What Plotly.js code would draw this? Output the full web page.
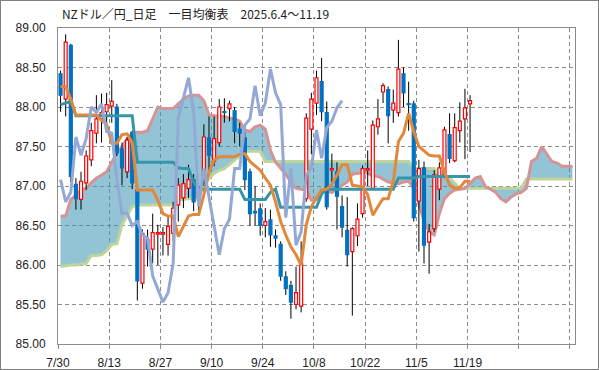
<!DOCTYPE html>
<html><head><meta charset="utf-8">
<script src="https://cdn.plot.ly/plotly-3.0.1.min.js"></script>
<style>
html,body{margin:0;padding:0;background:#fff;}
#wrap{width:599px;height:370px;box-sizing:border-box;border:1px solid #808080;overflow:hidden;}
#chart{width:597px;height:368px;}
</style></head><body><div id="wrap"><div id="chart"></div></div>
<script>
const tickLabels = ['7/30','8/13','8/27','9/10','9/24','10/8','10/22','11/5','11/19','',''];

const open = [88.42,88.10,88.78,87.02,86.83,87.04,87.33,87.67,87.85,87.94,
88.01,88.00,87.47,87.18,87.68,86.95,85.77,86.32,86.20,86.39,
86.39,86.26,86.40,86.76,86.85,86.97,87.08,86.82,87.12,87.61,
87.31,87.55,87.94,87.98,87.95,87.72,87.61,87.18,86.68,86.71,
86.50,86.57,86.37,86.26,85.85,85.74,85.50,85.48,86.84,87.72,
88.05,88.32,87.93,87.20,87.18,86.74,86.44,86.17,86.37,86.65,
87.20,86.97,87.75,88.19,88.22,87.96,87.93,88.42,88.04,88.04,
86.81,87.23,86.29,86.46,86.96,87.14,87.65,87.32,87.70,87.85,
88.04];
const high = [88.46,88.92,88.80,87.10,87.18,87.45,87.80,88.15,88.17,88.18,
88.34,88.04,87.55,87.62,87.70,86.98,86.45,86.45,86.65,86.51,
86.48,86.62,86.80,87.10,87.15,87.27,87.15,87.00,87.78,87.88,
87.88,88.10,88.11,88.08,88.00,87.80,87.70,87.22,87.00,86.78,
86.72,86.70,86.45,86.30,85.92,85.80,85.98,86.30,87.92,88.18,
88.46,88.62,88.07,87.41,87.30,86.88,86.86,86.48,86.78,87.26,
87.45,87.83,88.10,88.30,88.26,88.22,88.85,88.50,88.32,88.08,
87.33,87.31,86.52,87.20,87.30,87.75,87.92,87.92,88.06,88.23,
88.15];
const low = [87.94,87.88,87.05,86.70,86.70,86.95,87.25,87.54,87.55,87.70,
87.80,87.38,87.01,87.10,86.96,85.55,85.70,85.98,86.02,86.00,
86.12,86.12,86.30,86.55,86.72,86.85,86.68,86.63,87.00,87.20,
87.25,87.50,87.80,87.82,87.54,87.50,86.95,86.50,86.50,86.37,
86.35,86.23,86.22,85.80,85.62,85.32,85.44,85.40,86.80,87.40,
87.90,87.82,86.70,87.05,86.45,86.35,85.98,85.36,86.24,86.60,
87.00,86.95,87.65,88.05,87.54,87.80,87.88,88.00,87.70,86.55,
86.17,86.02,85.89,86.42,86.82,87.10,87.29,87.30,87.55,87.34,
87.43];
const close = [88.15,88.82,87.12,86.84,87.06,87.38,87.70,87.85,87.93,88.03,
88.07,87.42,87.23,87.58,87.04,85.80,86.40,86.20,86.41,86.41,
86.41,86.49,86.72,87.01,87.03,87.08,86.80,86.92,87.62,87.39,
87.60,88.00,87.93,88.04,87.69,87.67,87.08,86.65,86.66,86.50,
86.55,86.38,86.34,85.86,85.70,85.53,85.65,86.02,87.86,88.10,
88.37,87.94,86.74,87.22,86.87,86.48,86.13,86.46,86.58,87.22,
87.22,87.77,87.85,88.27,87.89,88.05,88.48,88.18,88.03,86.60,
87.22,86.25,86.42,87.14,87.23,87.71,87.35,87.74,87.82,87.99,
88.08];

const tenkan = [88.26,88.26,88.10,87.90,87.90,87.90,87.90,87.90,87.83,87.78,
87.54,87.54,87.65,87.66,87.55,86.95,86.95,86.95,86.95,86.82,
86.65,86.62,86.62,86.36,86.50,86.62,86.64,86.64,86.89,87.18,
87.33,87.37,87.37,87.37,87.37,87.40,87.41,87.31,87.25,87.20,
87.10,87.01,86.80,86.55,86.38,86.23,86.13,86.00,86.51,86.74,
86.85,86.95,86.96,87.02,87.14,87.27,87.27,87.01,87.00,86.99,
86.89,86.63,86.74,86.84,86.84,87.06,87.56,87.67,87.92,87.69,
87.50,87.44,87.39,87.38,87.38,87.18,87.01,86.97,86.98,87.06,
87.06];
const kijun = [88.03,88.05,88.07,87.89,87.89,87.89,87.89,87.89,87.89,87.89,
87.89,87.89,87.89,87.89,87.89,87.30,87.30,87.30,87.30,87.30,
87.30,87.30,87.30,87.23,87.22,87.22,87.05,86.96,86.96,86.96,
86.96,86.96,86.96,86.96,86.96,86.96,86.83,86.83,86.83,86.83,
86.83,86.92,86.96,86.73,86.73,86.73,86.73,86.73,86.73,86.73,
86.73,86.90,86.96,86.96,86.96,86.96,86.96,86.96,86.96,86.96,
86.96,86.96,86.96,86.96,86.96,86.96,87.10,87.10,87.10,87.10,
87.12,87.12,87.12,87.12,87.12,87.12,87.12,87.12,87.12,87.12,
87.12];
const chikou = [87.08,86.80,86.92,87.62,87.39,87.60,88.00,87.93,88.04,87.69,
87.67,87.08,86.65,86.66,86.50,86.55,86.38,86.34,85.86,85.70,
85.53,85.65,86.02,87.86,88.10,88.37,87.94,86.74,87.22,86.87,
86.48,86.13,86.46,86.58,87.22,87.22,87.77,87.85,88.27,87.89,
88.05,88.48,88.18,88.03,86.60,87.22,86.25,86.42,87.14,87.23,
87.71,87.35,87.74,87.82,87.99,88.08];
const spanA = [86.62,86.62,86.83,86.88,86.95,86.97,87.04,87.10,87.14,87.18,
87.30,87.42,87.50,87.60,87.67,87.68,87.68,87.70,87.85,88.00,
87.98,87.98,87.98,88.04,88.10,88.14,88.15,88.15,88.08,87.90,
87.89,87.88,87.88,87.86,87.85,87.82,87.71,87.69,87.75,87.77,
87.72,87.45,87.30,87.22,87.15,87.05,86.97,86.96,86.95,86.82,
86.83,86.95,86.93,86.92,86.96,87.00,87.05,87.15,87.16,87.17,
87.16,87.13,87.12,87.08,87.05,87.04,87.03,87.05,87.06,86.98,
86.76,86.56,86.42,86.38,86.65,86.84,86.91,86.95,86.96,86.97,
87.03,87.10,87.12,86.99,86.96,86.92,86.84,86.80,86.86,86.90,
86.92,86.97,87.31,87.35,87.50,87.40,87.31,87.29,87.25,87.25,
87.25];
const spanB = [85.98,85.99,86.00,86.00,86.01,86.02,86.12,86.12,86.13,86.18,
86.26,86.27,86.51,86.63,86.74,86.76,86.76,86.76,86.76,86.76,
86.76,86.76,86.76,86.82,86.83,86.84,86.84,86.90,86.98,87.10,
87.16,87.20,87.22,87.27,87.33,87.38,87.44,87.44,87.44,87.44,
87.31,87.31,87.31,87.31,87.31,87.31,87.31,87.31,87.31,87.31,
87.31,87.31,87.31,87.31,87.31,87.31,87.31,87.31,87.31,87.31,
87.31,87.31,87.31,87.31,87.31,87.31,87.31,87.31,87.31,87.22,
87.22,87.22,87.22,87.22,87.13,87.13,87.10,87.03,86.97,86.97,
86.97,86.97,86.97,86.97,86.97,86.97,86.97,86.97,86.97,86.97,
86.97,87.09,87.09,87.09,87.09,87.09,87.09,87.09,87.09,87.09,
87.09];

const idx = arr => arr.map((_, i) => i);
const wickX = [], wickY = [];
close.forEach((c, i) => { wickX.push(i, i, null); wickY.push(low[i], high[i], null); });
const isUp = close.map((c, i) => c >= open[i]);
const bodyBase = close.map((c, i) => Math.min(c, open[i]));
const bodyH = close.map((c, i) => Math.max(Math.abs(c - open[i]), 0.012));

const RED = '#ff0000', BLUE = '#0070c0';
const xr = [-0.5, 100.5], yr = [85, 89];
const tickPos = tickLabels.map((_, k) => k * 10 - 0.5);

const traces = [
  {type:'scatter', mode:'lines', x: idx(spanB), y: spanB, xaxis:'x', yaxis:'y',
   line:{color:'#bdd49a', width:3}, hoverinfo:'skip'},
  {type:'scatter', mode:'lines', x: idx(spanA), y: spanA, xaxis:'x', yaxis:'y',
   fill:'tonexty', fillcolor:'rgba(60,150,180,0.56)',
   line:{color:'#d69395', width:3}, hoverinfo:'skip'},
  {type:'scatter', mode:'lines', x: wickX, y: wickY, xaxis:'x', yaxis:'y',
   line:{color:'#000000', width:1}, connectgaps:false, hoverinfo:'skip'},
  {type:'bar', x: idx(close), y: bodyH, base: bodyBase, xaxis:'x2', yaxis:'y2', width:0.58,
   marker:{color: isUp.map(u => u ? '#ffffff' : BLUE),
           line:{color: isUp.map(u => u ? RED : BLUE), width:1.2}}, hoverinfo:'skip'},
  {type:'scatter', mode:'lines', x: idx(kijun), y: kijun, xaxis:'x2', yaxis:'y2',
   line:{color:'#3795a9', width:3}, hoverinfo:'skip'},
  {type:'scatter', mode:'lines', x: idx(tenkan), y: tenkan, xaxis:'x2', yaxis:'y2',
   line:{color:'#e2883b', width:3}, hoverinfo:'skip'},
  {type:'scatter', mode:'lines', x: idx(chikou), y: chikou, xaxis:'x2', yaxis:'y2',
   line:{color:'#93a8d4', width:3}, hoverinfo:'skip'}
];

const gridStyle = {showgrid:true, gridcolor:'#8c8c8c', gridwidth:1, griddash:'4px,3px',
  zeroline:false, showline:true, mirror:true, linecolor:'#8c8c8c', linewidth:1};

const layout = {
  width:597, height:368,
  margin:{l:57, r:23, t:27, b:25, pad:0},
  paper_bgcolor:'#ffffff', plot_bgcolor:'#ffffff',
  showlegend:false, barmode:'overlay',
  font:{family:'Liberation Sans, Arial, sans-serif', size:12, color:'#222'},
  title:{text:'NZドル／円_日足　一目均衡表　2025.6.4～11.19',
         font:{family:'Noto Sans CJK JP, sans-serif', size:12, color:'#222'},
         x:0.102, xanchor:'left', xref:'container', y:0.962, yanchor:'middle', yref:'container'},
  xaxis: Object.assign({}, gridStyle, {range:xr, tickmode:'array', tickvals:tickPos, ticktext:tickLabels,
         ticks:'outside', ticklen:4, tickcolor:'#8c8c8c', ticklabelstandoff:4,
         tickfont:{size:12, color:'#222'}}),
  yaxis: Object.assign({}, gridStyle, {range:yr, tickmode:'array',
         tickvals:[85,85.5,86,86.5,87,87.5,88,88.5,89], tickformat:'.2f',
         ticks:'', ticklabelstandoff:9, tickfont:{size:12, color:'#222'}}),
  xaxis2:{overlaying:'x', range:xr, visible:false},
  yaxis2:{overlaying:'y', range:yr, visible:false}
};

Plotly.newPlot('chart', traces, layout, {staticPlot:true, displayModeBar:false});
</script></body></html>
